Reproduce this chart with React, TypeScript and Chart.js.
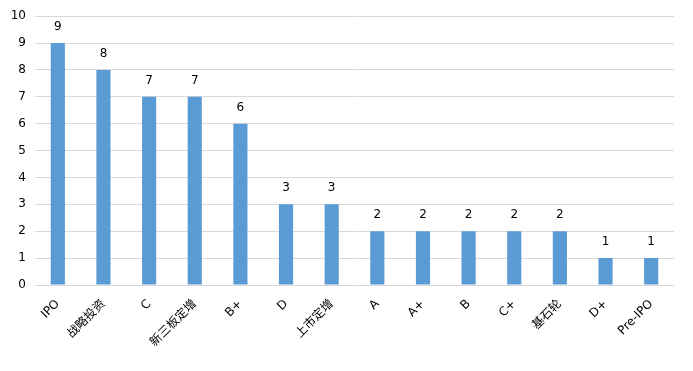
import React, { useEffect, useRef } from "react";
import { Chart, registerables } from "chart.js";

Chart.register(...registerables);

const categories = ["IPO", "战略投资", "C", "新三板定增", "B+", "D", "上市定增", "A", "A+", "B", "C+", "基石轮", "D+", "Pre-IPO"];
const counts = [9, 8, 7, 7, 6, 3, 3, 2, 2, 2, 2, 2, 1, 1];
const yTicks = [0, 1, 2, 3, 4, 5, 6, 7, 8, 9, 10];

const FONT = "'DejaVu Sans', 'Noto Sans CJK SC', sans-serif";

const valueLabels = {
  id: "valueLabels",
  afterDatasetsDraw(chart: any) {
    const ctx = chart.ctx;
    const meta = chart.getDatasetMeta(0);
    ctx.save();
    ctx.fillStyle = "#000";
    ctx.font = `12px ${FONT}`;
    ctx.textAlign = "center";
    ctx.textBaseline = "alphabetic";
    meta.data.forEach((bar: any, i: number) => {
      ctx.fillText(String(counts[i]), bar.x, bar.y - 13);
    });
    ctx.restore();
  },
};

export default function App() {
  const ref = useRef<HTMLCanvasElement>(null);
  useEffect(() => {
    const chart = new Chart(ref.current!, {
      type: "bar",
      data: {
        labels: categories,
        datasets: [
          {
            data: counts,
            backgroundColor: "#5B9BD5",
            categoryPercentage: 1,
            barPercentage: 0.31,
          },
        ],
      },
      options: {
        animation: false,
        responsive: false,
        maintainAspectRatio: false,
        layout: { padding: { top: 16, right: 19, left: 0, bottom: 0 } },
        plugins: { legend: { display: false }, tooltip: { enabled: false } },
        scales: {
          x: {
            grid: { display: false },
            border: { display: false },
            ticks: {
              minRotation: 45,
              maxRotation: 45,
              autoSkip: false,
              color: "#000",
              padding: 4,
              font: { family: FONT, size: 12 },
            },
            afterFit: (s: any) => {
              s.height = 86;
            },
          },
          y: {
            min: 0,
            max: 10,
            afterBuildTicks: (s: any) => {
              s.ticks = yTicks.map((v) => ({ value: v }));
            },
            grid: { color: "#d9d9d9", drawTicks: false },
            border: { display: false },
            ticks: {
              color: "#000",
              padding: 9,
              font: { family: FONT, size: 12 },
            },
            afterFit: (s: any) => {
              s.width = 35;
            },
          },
        },
      },
      plugins: [valueLabels],
    });
    return () => chart.destroy();
  }, []);
  return (
    <div style={{ position: "fixed", left: 0, top: 0, width: 693, height: 371, background: "#fff" }}>
      <canvas ref={ref} width={693} height={371} style={{ width: 693, height: 371 }} />
    </div>
  );
}
